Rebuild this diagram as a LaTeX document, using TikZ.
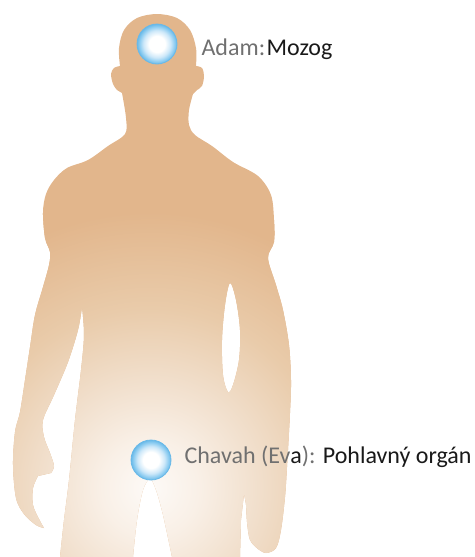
\documentclass[tikz,border=0pt]{standalone}
\usepackage{fontspec}
\setmainfont{Carlito}
\usetikzlibrary{positioning,calc}

\definecolor{skin}{RGB}{226,182,140}
\definecolor{glowA}{RGB}{253,250,247}
\definecolor{glowB}{RGB}{249,240,231}
\definecolor{glowC}{RGB}{241,223,204}
\definecolor{glowD}{RGB}{233,203,170}
\definecolor{bulbmid}{RGB}{205,232,249}
\definecolor{bulbblue}{RGB}{140,204,241}
\definecolor{bulbedge}{RGB}{105,185,232}
\definecolor{textgrey}{RGB}{112,112,112}
\definecolor{textdark}{RGB}{25,25,25}

% only the inner 25bp of a radial shading lands inside the shaded circle
\pgfdeclareradialshading{bulb}{\pgfpointorigin}{color(0bp)=(white); color(10bp)=(white); color(17bp)=(bulbmid); color(22bp)=(bulbblue); color(25bp)=(bulbedge); color(50bp)=(bulbedge)}
\pgfdeclareradialshading{bodyglow}{\pgfpointorigin}{color(0bp)=(glowA); color(4bp)=(glowB); color(9bp)=(glowC); color(15bp)=(glowD); color(23bp)=(skin); color(50bp)=(skin)}

\tikzset{
    Chakra/.style={circle, minimum size=40pt, inner sep=0pt, shade, shading=bulb, draw=bulbedge, line width=.8pt},
    Caption/.style={inner sep=0pt, text=textdark}
    }

% outline of the body, pixel units, y pointing down
\newcommand{\silueta}{
  plot[smooth, tension=.55] coordinates {(60,557) (64,520) (69,480) (75,420) (81,370) (84,335) (82,307)}
  -- plot[smooth, tension=.55] coordinates {(82,307) (78,330) (68,362) (54,395) (43,420) (44,437) (50,453) (54,466) (51,473)}
  -- plot[smooth, tension=.55] coordinates {(38,476) (33,488) (33,505) (39,519) (44,528)}
  -- plot[smooth, tension=.55] coordinates {(44,528) (36,525) (24,514) (16,498) (13,465) (15,432) (20,412) (25,380) (30,347) (35,315) (43,287) (49,265) (50,252) (45,238) (43,212) (46,194) (54,180) (67,168) (88,160) (108,146) (125,134) (126,118) (122,93)}
  -- plot[smooth, tension=.55] coordinates {(117,90) (113,84) (111,74) (114,68) (120,66)}
  -- plot[smooth, tension=.55] coordinates {(120,66) (119,48) (124,30) (137,18) (157,14) (177,18) (190,30) (196,48) (196,66)}
  -- plot[smooth, tension=.55] coordinates {(196,66) (202,68) (204,76) (202,86) (197,90)}
  -- plot[smooth, tension=.55] coordinates {(193,94) (189,110) (189,125) (195,135) (212,146) (233,162) (258,176) (271,195) (274,220) (274,242) (268,258) (276,285) (283,310) (289,345) (291,380) (290,413) (287,467) (285,497) (281,530) (276,548) (266,553) (258,549)}
  -- plot[smooth, tension=.55] coordinates {(258,549) (250,540) (247,522) (246,505) (244,494)}
  -- (241,520) -- (240,557) -- (172,557)
  -- plot[smooth, tension=.55] coordinates {(172,557) (163,515) (156,490) (150,479) (143,490) (137,520) (133,557)}
  -- cycle
  % gap under the right arm
  plot[smooth cycle, tension=.55] coordinates {(230,283) (236,300) (240,330) (239,360) (233,385) (228,392) (223,375) (222,340) (225,305)}
}

\begin{document}
\begin{tikzpicture}[x=1pt, y=-1pt, font=\fontsize{24}{28}\selectfont]
\useasboundingbox (0,0) rectangle (474,557);

% body with a light glow around the lower point
\fill[skin, even odd rule] \silueta;
\begin{scope}[even odd rule]
\clip \silueta;
\shade[shading=bodyglow] (150,488) circle (300);
\end{scope}

\node[Chakra] (hlava) at (157,44) {};
\node[Caption, anchor=base west] (adam) at ([xshift=24pt, yshift=-11pt]hlava.east) {{\color{textgrey}Adam:}\kern1.5pt Mozog};

\node[Chakra] (lono) at (151,460) {};
\node[Caption, anchor=base west] (chavah) at ([xshift=13pt, yshift=-3pt]lono.east) {{\color{textgrey}Chavah (Ev}a{\color{textgrey}):} Pohlavný orgán};

\end{tikzpicture}
\end{document}
